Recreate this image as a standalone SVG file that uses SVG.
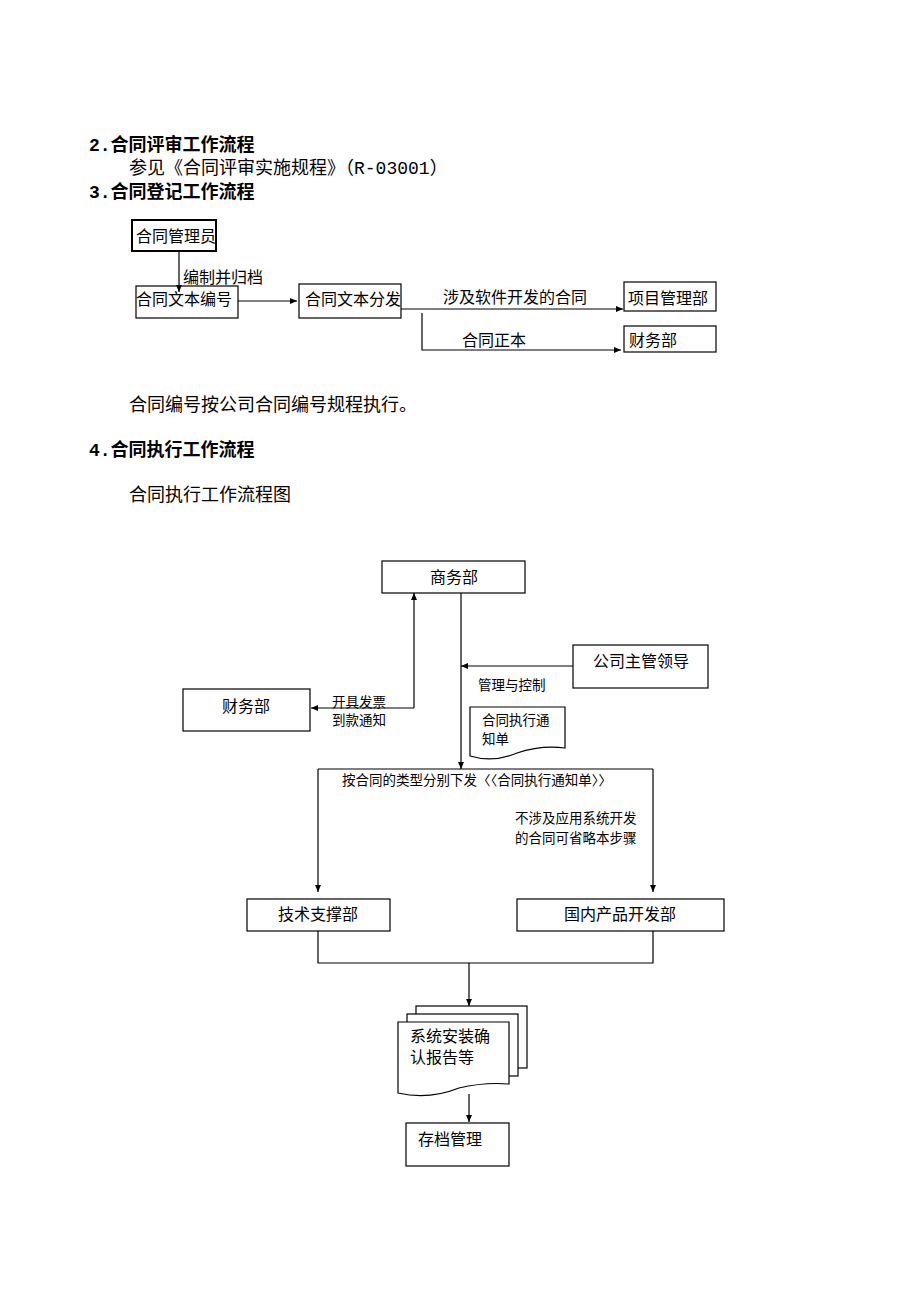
<svg xmlns="http://www.w3.org/2000/svg" width="920" height="1302" viewBox="0 0 920 1302">
<style>
text{font-family:"Liberation Serif","Noto Sans CJK SC",serif;fill:#000}
.m{font-family:"Liberation Mono","Noto Sans CJK SC",monospace}
.h{font-size:18px;font-weight:bold}
.b{font-size:18px}
.t{font-size:16px}
.s{font-size:13.5px}
.box{fill:#fff;stroke:#000;stroke-width:1.2}
.ln{fill:none;stroke:#000;stroke-width:1.2}
</style>
<defs>
<marker id="ar" markerWidth="7" markerHeight="6" refX="7" refY="3" orient="auto" markerUnits="userSpaceOnUse">
<path d="M0,0 L7,3 L0,6 Z" fill="#000"/>
</marker>
</defs>
<rect width="920" height="1302" fill="#fff"/>
<g id="headings">
<text class="h" x="89" y="151"><tspan class="m">2.</tspan>合同评审工作流程</text>
<text class="b" x="129" y="174">参见《合同评审实施规程》（<tspan class="m">R-03001</tspan>）</text>
<text class="h" x="89" y="198"><tspan class="m">3.</tspan>合同登记工作流程</text>
<text class="b" x="129" y="411">合同编号按公司合同编号规程执行。</text>
<text class="h" x="89" y="456"><tspan class="m">4.</tspan>合同执行工作流程</text>
<text class="b" x="129" y="501">合同执行工作流程图</text>
</g>
<g id="n-admin"><rect x="132" y="220" width="84" height="31" fill="#fff" stroke="#000" stroke-width="2"/><text class="t" x="136" y="242">合同管理员</text></g>
<g id="n-numbering"><rect class="box" x="136" y="286" width="102" height="32"/><text class="t" x="136" y="305">合同文本编号</text></g>
<g id="n-distribute"><rect class="box" x="299" y="284" width="102" height="34"/><text class="t" x="305" y="305">合同文本分发</text></g>
<g id="n-pm"><rect class="box" x="624" y="282" width="92" height="29"/><text class="t" x="628" y="304">项目管理部</text></g>
<g id="n-fin1"><rect class="box" x="624" y="326" width="92" height="26"/><text class="t" x="629" y="346">财务部</text></g>
<g id="n-business"><rect class="box" x="382" y="561" width="143" height="32"/><text class="t" x="454" y="583" text-anchor="middle">商务部</text></g>
<g id="n-leader"><rect class="box" x="573" y="645" width="135" height="43"/><text class="t" x="593" y="667">公司主管领导</text></g>
<g id="n-fin2"><rect class="box" x="183" y="689" width="127" height="42"/><text class="t" x="246" y="712" text-anchor="middle">财务部</text></g>
<g id="n-notice"><path class="box" d="M470,707 L565,707 L565,748 Q541,745 517,753 Q493,763 470,756 Z"/><text class="s" x="482" y="725">合同执行通</text><text class="s" x="482" y="744">知单</text></g>
<g id="n-tech"><rect class="box" x="247" y="899" width="143" height="32"/><text class="t" x="318" y="920" text-anchor="middle">技术支撑部</text></g>
<g id="n-dev"><rect class="box" x="517" y="899" width="207" height="32"/><text class="t" x="620" y="920" text-anchor="middle">国内产品开发部</text></g>
<g id="n-reports">
<rect class="box" x="416" y="1006" width="111" height="62"/>
<rect class="box" x="407" y="1014" width="111" height="62"/>
<path class="box" d="M398,1022 L509,1022 L509,1084 Q484,1082 459,1088 Q429,1100 398,1093 Z"/>
<text class="t" x="410" y="1042">系统安装确</text><text class="t" x="410" y="1063">认报告等</text>
</g>
<g id="n-archive"><rect class="box" x="406" y="1123" width="103" height="43"/><text class="t" x="418" y="1145">存档管理</text></g>
<g id="connectors">
<line class="ln" x1="179" y1="251" x2="179" y2="292" marker-end="url(#ar)"/>
<line class="ln" x1="238" y1="301" x2="297" y2="301" marker-end="url(#ar)"/>
<line class="ln" x1="401" y1="309" x2="623" y2="309" marker-end="url(#ar)"/>
<polyline class="ln" points="422,313 422,350 621,350" marker-end="url(#ar)"/>
<line class="ln" x1="414" y1="708" x2="414" y2="593" marker-end="url(#ar)"/>
<line class="ln" x1="414" y1="708" x2="311" y2="708" marker-end="url(#ar)"/>
<line class="ln" x1="461" y1="593" x2="461" y2="769" marker-end="url(#ar)"/>
<line class="ln" x1="573" y1="666" x2="461" y2="666" marker-end="url(#ar)"/>
<polyline class="ln" points="318,769 653,769"/>
<line class="ln" x1="318" y1="769" x2="318" y2="892" marker-end="url(#ar)"/>
<line class="ln" x1="653" y1="769" x2="653" y2="892" marker-end="url(#ar)"/>
<polyline class="ln" points="318,931 318,963 653,963 653,931"/>
<line class="ln" x1="469" y1="963" x2="469" y2="1006" marker-end="url(#ar)"/>
<line class="ln" x1="469" y1="1094" x2="469" y2="1122" marker-end="url(#ar)"/>
</g>
<g id="labels">
<text class="t" x="183" y="283">编制并归档</text>
<text class="t" x="443" y="303">涉及软件开发的合同</text>
<text class="t" x="462" y="346">合同正本</text>
<text class="s" x="332" y="707">开具发票</text>
<text class="s" x="332" y="725">到款通知</text>
<text class="s" x="478" y="690">管理与控制</text>
<text class="s" x="342" y="785">按合同的类型分别下发〈〈合同执行通知单〉〉</text>
<text class="s" x="515" y="823">不涉及应用系统开发</text>
<text class="s" x="515" y="843">的合同可省略本步骤</text>
</g>
</svg>
